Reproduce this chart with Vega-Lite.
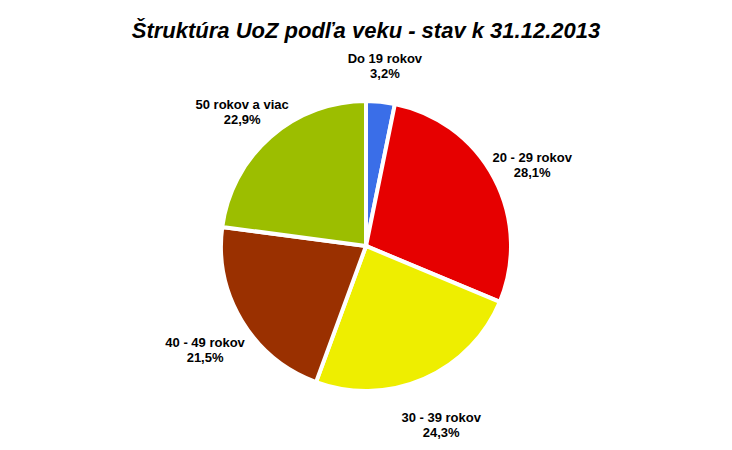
{
  "$schema": "https://vega.github.io/schema/vega-lite/v6.json",
  "width": 732,
  "height": 450,
  "autosize": {"type": "fit", "contains": "padding"},
  "padding": {"top": 20, "bottom": 5, "left": 5, "right": 5},
  "background": "white",
  "title": {
    "text": "Štruktúra UoZ podľa veku - stav k 31.12.2013",
    "font": "Liberation Sans",
    "fontSize": 22,
    "fontWeight": "bold",
    "fontStyle": "italic",
    "color": "#000000",
    "offset": 4
  },
  "data": {
    "values": [
      {"skupina": "Do 19 rokov", "podiel": 3.2, "poradie": 1, "label": "Do 19 rokov\n3,2%"},
      {"skupina": "20 - 29 rokov", "podiel": 28.1, "poradie": 2, "label": "20 - 29 rokov\n28,1%"},
      {"skupina": "30 - 39 rokov", "podiel": 24.3, "poradie": 3, "label": "30 - 39 rokov\n24,3%"},
      {"skupina": "40 - 49 rokov", "podiel": 21.5, "poradie": 4, "label": "40 - 49 rokov\n21,5%"},
      {"skupina": "50 rokov a viac", "podiel": 22.9, "poradie": 5, "label": "50 rokov a viac\n22,9%"}
    ]
  },
  "encoding": {
    "theta": {"field": "podiel", "type": "quantitative", "stack": true},
    "order": {"field": "poradie", "type": "quantitative"}
  },
  "layer": [
    {
      "mark": {"type": "arc", "outerRadius": 145, "stroke": "white", "strokeWidth": 4},
      "encoding": {
        "color": {
          "field": "skupina",
          "type": "nominal",
          "sort": ["Do 19 rokov", "20 - 29 rokov", "30 - 39 rokov", "40 - 49 rokov", "50 rokov a viac"],
          "scale": {
            "domain": ["Do 19 rokov", "20 - 29 rokov", "30 - 39 rokov", "40 - 49 rokov", "50 rokov a viac"],
            "range": ["#3a6ee8", "#e60000", "#eeee00", "#9a3000", "#9cbe00"]
          },
          "legend": null
        }
      }
    },
    {
      "mark": {
        "type": "text",
        "radius": 188,
        "font": "Liberation Sans",
        "fontSize": 13,
        "fontWeight": "bold",
        "color": "#000000",
        "lineBreak": "\n",
        "align": "center",
        "baseline": "middle"
      },
      "encoding": {
        "text": {"field": "label", "type": "nominal"}
      }
    }
  ],
  "config": {"view": {"stroke": null}}
}
